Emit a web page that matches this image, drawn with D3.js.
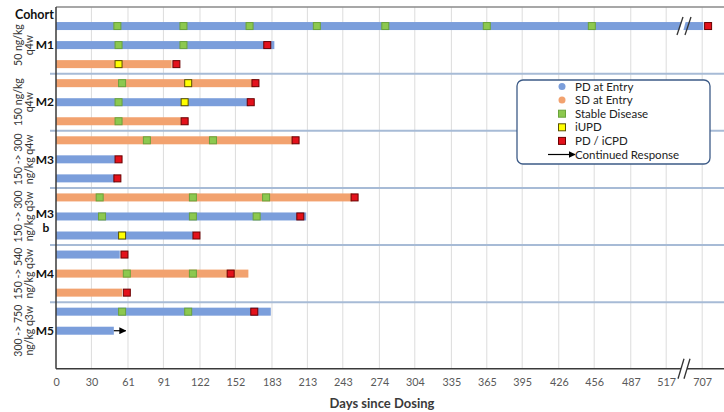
<!DOCTYPE html>
<html>
<head>
<meta charset="utf-8">
<script src="https://cdn.jsdelivr.net/npm/d3@7"></script>
<style>
  body { margin: 0; background: #fff; }
  svg text { font-family: Lato, "Open Sans", sans-serif; }
</style>
</head>
<body>
<div id="wrapper"></div>
<script>
// data (days since dosing), one entry per patient row
const entryType = ["PD", "PD", "SD", "SD", "PD", "SD", "SD", "PD", "PD", "SD", "PD", "PD", "PD", "SD", "SD", "PD", "PD"]
const duration = [708, 185, 98, 169, 164, 106, 201, 50, 50, 251, 212, 116, 54, 163, 56, 182, 49]
const stableDays = [
  [52, 108, 164, 221, 279, 365, 454], [53, 108], [], [56], [53], [53],
  [77, 133], [], [], [37, 116, 178], [39, 116, 170], [],
  [], [60, 116], [], [56, 112], []
]
const iupdDays = [[], [], [53], [112], [109], [], [], [], [], [], [], [56], [], [], [], [], []]
const pdDays = [712, 179, 102, 169, 165, 109, 203, 53, 52, 253, 207, 119, 58, 148, 60, 168, null]
const continuedTo = [null, null, null, null, null, null, null, null, null, null, null, null, null, null, null, null, 59]

// cohorts
const cohortNames = ["M1", "M2", "M3", "M3", "M4", "M5"]
const cohortSuffix = ["", "", "", "b", "", ""]
const doseLine1 = ["50 ng/kg", "150 ng/kg", "150 -> 300", "150 -> 300", "150 -> 540", "300 -> 750"]
const doseLine2 = ["q4w", "q4w", "ng/kg q4w", "ng/kg q3w", "ng/kg q3w", "ng/kg q3w"]
const cohortFirstRow = [0, 3, 6, 9, 12, 15]

const tickLabels = [0, 30, 61, 91, 122, 152, 183, 213, 243, 274, 304, 335, 365, 395, 426, 456, 487, 517, 707]

const legendLabels = ["PD at Entry", "SD at Entry", "Stable Disease", "iUPD", "PD / iCPD", "Continued Response"]

const colors = {
  PD: "#7b9edb", SD: "#f2a26f",
  stable: "#8cc84f", stableEdge: "#6aa33c",
  iupd: "#ffff00", iupdEdge: "#5a5000",
  pd: "#e3111b", pdEdge: "#6b0000"
}

const width = 724
const height = 412
const plotLeft = 56
const plotTop = 7
const plotBottom = 368.8
const step = 35.9  // px per month tick

const svg = d3.select("#wrapper").append("svg")
  .attr("width", width)
  .attr("height", height)

// x is broken between 517 and 707
const xScale = d3.scaleLinear()
  .domain([0, 517.1, 707, 770])
  .range([plotLeft, plotLeft + 17 * step, plotLeft + 18 * step, plotLeft + 18 * step + 63 * step / 30.4167])

const yScale = d3.scaleLinear()
  .domain([-1, 18])
  .range([plotTop, plotBottom])

// gridlines
svg.append("g")
  .selectAll("line")
  .data(tickLabels.slice(1))
  .join("line")
  .attr("x1", d => xScale(d)).attr("x2", d => xScale(d))
  .attr("y1", plotTop).attr("y2", plotBottom)
  .attr("stroke", "#dcdcdc")
  .attr("stroke-width", 1)

// group separators
svg.append("g")
  .selectAll("line")
  .data(cohortFirstRow.slice(1))
  .join("line")
  .attr("x1", 50).attr("x2", width)
  .attr("y1", d => yScale(d - 0.5)).attr("y2", d => yScale(d - 0.5))
  .attr("stroke", "#a7bbd6")
  .attr("stroke-width", 2)

// top border
svg.append("line")
  .attr("x1", plotLeft).attr("x2", width)
  .attr("y1", plotTop).attr("y2", plotTop)
  .attr("stroke", "#8a8a8a").attr("stroke-width", 1.5)

const rows = d3.range(entryType.length)
const barH = 8

svg.append("g")
  .selectAll("rect")
  .data(rows)
  .join("rect")
  .attr("x", xScale(0))
  .attr("y", i => yScale(i) - barH / 2)
  .attr("width", i => xScale(duration[i]) - xScale(0))
  .attr("height", barH)
  .attr("fill", i => colors[entryType[i]])

// break on the long bar
const breakX = 684
const drawBreak = (cy, h) => {
  const g = svg.append("g")
  g.append("polygon")
    .attr("points", `${breakX - 6},${cy + h / 2} ${breakX - 1},${cy - h / 2} ${breakX + 3},${cy - h / 2} ${breakX - 2},${cy + h / 2}`)
    .attr("fill", "#fff")
  ;[-4, 4].forEach(o => {
    g.append("line")
      .attr("x1", breakX + o - 3).attr("y1", cy + h / 2)
      .attr("x2", breakX + o + 3).attr("y2", cy - h / 2)
      .attr("stroke", "#333").attr("stroke-width", 1.3)
  })
}

// markers
const marker = 7
const addMarkers = (list, fill, edge) => {
  svg.append("g")
    .selectAll("rect")
    .data(list)
    .join("rect")
    .attr("x", d => xScale(d.day) - marker / 2)
    .attr("y", d => yScale(d.row) - marker / 2)
    .attr("width", marker).attr("height", marker)
    .attr("fill", fill)
    .attr("stroke", edge)
    .attr("stroke-width", 1)
}

drawBreak(yScale(0), 18)

addMarkers(rows.flatMap(i => stableDays[i].map(day => ({ row: i, day }))), colors.stable, colors.stableEdge)
addMarkers(rows.flatMap(i => iupdDays[i].map(day => ({ row: i, day }))), colors.iupd, colors.iupdEdge)
addMarkers(rows.filter(i => pdDays[i] != null).map(i => ({ row: i, day: pdDays[i] })), colors.pd, colors.pdEdge)

// continued response arrows
svg.append("defs").append("marker")
  .attr("id", "arrow")
  .attr("viewBox", "0 0 10 10")
  .attr("refX", 9).attr("refY", 5)
  .attr("markerWidth", 7).attr("markerHeight", 7)
  .attr("markerUnits", "userSpaceOnUse")
  .attr("orient", "auto")
  .append("path")
  .attr("d", "M0,0 L10,5 L0,10 Z")
  .attr("fill", "#000")

svg.append("g")
  .selectAll("line")
  .data(rows.filter(i => continuedTo[i] != null))
  .join("line")
  .attr("x1", i => xScale(duration[i])).attr("x2", i => xScale(continuedTo[i]))
  .attr("y1", i => yScale(i)).attr("y2", i => yScale(i))
  .attr("stroke", "#000").attr("stroke-width", 1.2)
  .attr("marker-end", "url(#arrow)")

// axes
const xAxis = svg.append("g")
  .attr("transform", `translate(0,${plotBottom})`)
  .call(d3.axisBottom(xScale).tickValues(tickLabels).tickSize(0).tickPadding(10).tickFormat(d3.format("d")))
xAxis.select(".domain").attr("stroke", "#3a3a3a").attr("stroke-width", 1.5)
  .attr("d", `M${plotLeft},0H${width}`)
xAxis.selectAll("text").attr("fill", "#595959").style("font-size", "10.8px")

// axis break
svg.append("rect")
  .attr("x", breakX - 3).attr("y", plotBottom - 3).attr("width", 6).attr("height", 6)
  .attr("fill", "#fff")
;[-3, 3].forEach(o => {
  svg.append("line")
    .attr("x1", breakX + o - 3).attr("y1", plotBottom + 10)
    .attr("x2", breakX + o + 3).attr("y2", plotBottom - 10)
    .attr("stroke", "#333").attr("stroke-width", 1.3)
})

svg.append("line")
  .attr("x1", plotLeft).attr("x2", plotLeft)
  .attr("y1", plotTop).attr("y2", plotBottom)
  .attr("stroke", "#3a3a3a").attr("stroke-width", 1.5)

svg.append("text")
  .attr("x", 382).attr("y", 408)
  .attr("text-anchor", "middle")
  .style("font-size", "13px").style("font-weight", "bold")
  .attr("fill", "#3a3a3a")
  .text("Days since Dosing")

svg.append("text")
  .attr("x", 15).attr("y", 18.5)
  .style("font-size", "12.5px").style("font-weight", "bold")
  .attr("fill", "#111")
  .text("Cohort")

// cohort labels
cohortNames.forEach((name, k) => {
  const mid = yScale(cohortFirstRow[k] + 1)
  const g = svg.append("g")
  g.append("text")
    .attr("x", 54).attr("y", cohortSuffix[k] ? mid - 3 : mid)
    .attr("dy", "0.35em")
    .attr("text-anchor", "end")
    .style("font-size", "12px").style("font-weight", "bold")
    .attr("fill", "#111")
    .text(name)
  if (cohortSuffix[k]) {
    g.append("text")
      .attr("x", 46).attr("y", mid + 11)
      .attr("dy", "0.35em")
      .attr("text-anchor", "middle")
      .style("font-size", "12px").style("font-weight", "bold")
      .attr("fill", "#111")
      .text(cohortSuffix[k])
  }
  ;[[doseLine1[k], 18], [doseLine2[k], 29]].forEach(([t, x]) => {
    g.append("text")
      .attr("transform", `translate(${x},${mid}) rotate(-90)`)
      .attr("dy", "0.35em")
      .attr("text-anchor", "middle")
      .style("font-size", "10.5px")
      .attr("fill", "#333")
      .text(t)
  })
})

// legend
const legend = svg.append("g")
legend.append("rect")
  .attr("x", 517).attr("y", 80)
  .attr("width", 193).attr("height", 84)
  .attr("rx", 6)
  .attr("fill", "#fff")
  .attr("stroke", "#3d5b87").attr("stroke-width", 1.3)

const legendY = i => 86.5 + i * 13.6
const legendFill = [colors.PD, colors.SD, colors.stable, colors.iupd, colors.pd]
const legendEdge = [null, null, colors.stableEdge, colors.iupdEdge, colors.pdEdge]

legendLabels.forEach((label, i) => {
  if (i < 2) {
    legend.append("circle")
      .attr("cx", 562).attr("cy", legendY(i)).attr("r", 3.5)
      .attr("fill", legendFill[i])
  } else if (i < 5) {
    legend.append("rect")
      .attr("x", 562 - 3.5).attr("y", legendY(i) - 3.5)
      .attr("width", 7).attr("height", 7)
      .attr("fill", legendFill[i]).attr("stroke", legendEdge[i])
  } else {
    legend.append("line")
      .attr("x1", 548).attr("x2", 575)
      .attr("y1", legendY(i)).attr("y2", legendY(i))
      .attr("stroke", "#000").attr("stroke-width", 1.2)
      .attr("marker-end", "url(#arrow)")
  }
  legend.append("text")
    .attr("x", 575).attr("y", legendY(i))
    .attr("dy", "0.35em")
    .style("font-size", "11.5px")
    .attr("fill", "#222")
    .text(label)
})
</script>
</body>
</html>
